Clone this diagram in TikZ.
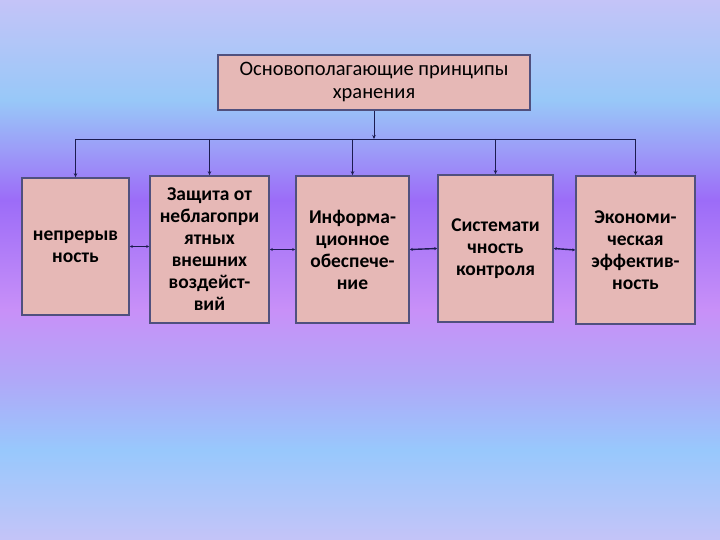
\documentclass[tikz,border=0pt]{standalone}
\usepackage{fontspec}
\setmainfont{Carlito}
\usetikzlibrary{arrows.meta,calc}
\definecolor{bgA}{HTML}{C4C4F8}
\definecolor{bgB}{HTML}{98C8FC}
\definecolor{bgC}{HTML}{B0A8F8}
\definecolor{bgD}{HTML}{C890F8}
\definecolor{bgE}{HTML}{9C6CF8}
\definecolor{bgF}{HTML}{9C9CF8}
\definecolor{bgG}{HTML}{98C8F8}
\definecolor{boxfill}{HTML}{E6B8B6}
\definecolor{boxline}{HTML}{50507E}
\definecolor{conn}{HTML}{1C1C50}
\pgfdeclareverticalshading{bgshade}{100bp}{color(0bp)=(bgA); color(25bp)=(bgA); color(33.33bp)=(bgB); color(39.81bp)=(bgC); color(46.3bp)=(bgD); color(56.48bp)=(bgE); color(61.11bp)=(bgF); color(65.74bp)=(bgG); color(75bp)=(bgA); color(100bp)=(bgA)}
\tikzset{
  box/.style={draw=boxline, line width=1.6pt, fill=boxfill, align=center, inner sep=0pt, font=\fontsize{19.5}{22}\selectfont\bfseries},
  topbox/.style={box, font=\fontsize{20.5}{23}\selectfont},
  conline/.style={draw=conn, line width=0.9pt},
  downarrow/.style={conline, -{Stealth[length=4pt,width=3.5pt]}},
  harrow/.style={conline, line width=1.4pt, {Stealth[length=3pt,width=3pt]}-{Stealth[length=3pt,width=3pt]}}
}
\begin{document}
\begin{tikzpicture}[x=1pt,y=-1pt]
\useasboundingbox (0,0) rectangle (720,540);
\shade[shading=bgshade] (0,0) rectangle (720,540);
\node[topbox, minimum width=312pt, minimum height=55pt] (top) at (374,82.5) {Основополагающие принципы\\хранения};
\node[box, minimum width=107pt, minimum height=137pt] (b1) at (75.5,246.5) {непрерыв\\ность};
\node[box, minimum width=119pt, minimum height=147pt] (b2) at (209.5,249.5) {Защита от\\неблагопри\\ятных\\внешних\\воздейст-\\вий};
\node[box, minimum width=113pt, minimum height=147pt] (b3) at (352.5,249.5) {Информа-\\ционное\\обеспече-\\ние};
\node[box, minimum width=115pt, minimum height=147pt] (b4) at (495.5,248.5) {Системати\\чность\\контроля};
\node[box, minimum width=119pt, minimum height=148pt] (b5) at (635.5,250) {Экономи-\\ческая\\эффектив-\\ность};
\coordinate (bus) at (374,139);
\draw[downarrow] (top.south) -- (bus);
\draw[conline] (b1.north |- bus) -- (b5.north |- bus);
\foreach \b in {b1,b2,b3,b4,b5} {
  \draw[downarrow] (\b.north |- bus) -- (\b.north);
}
\draw[harrow] (b1.east) -- (b1.east -| b2.west);
\draw[harrow] (b2.east) -- (b3.west);
\draw[harrow] (b3.east) -- (b4.west);
\draw[harrow] (b4.east) -- (b5.west);
\end{tikzpicture}
\end{document}
